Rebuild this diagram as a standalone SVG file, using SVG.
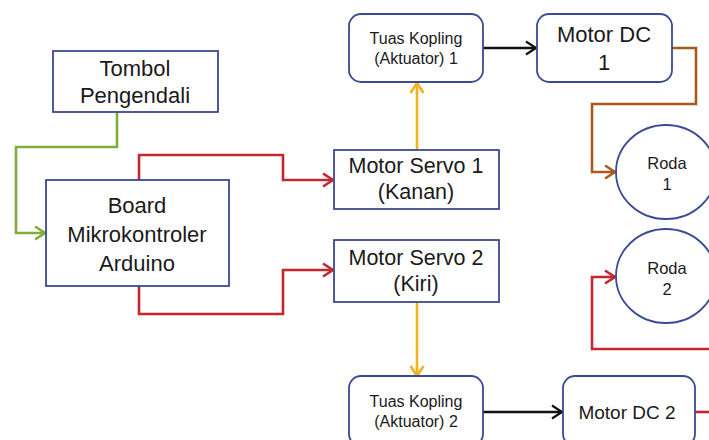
<svg xmlns="http://www.w3.org/2000/svg" width="709" height="440" viewBox="0 0 709 440">
<defs>
<style>
.box{fill:#fff;stroke:#3a4a94;stroke-width:1.8}
.t{font-family:"Liberation Sans",Arial,sans-serif;fill:#1a1a1a;text-anchor:middle}
.c{fill:none;stroke-width:2.6;stroke-linejoin:miter}
.g{stroke:#80ad3c}.r{stroke:#c4272d}.y{stroke:#f2b31c}.b{stroke:#111}.br{stroke:#a65a20}
</style>
<marker id="ag" markerUnits="userSpaceOnUse" markerWidth="14" markerHeight="16" refX="11" refY="7" orient="auto" overflow="visible"><path d="M1,0.5 L11,7 L1,13.5" fill="none" stroke="#80ad3c" stroke-width="2.6"/></marker>
<marker id="ar" markerUnits="userSpaceOnUse" markerWidth="14" markerHeight="16" refX="11" refY="7" orient="auto" overflow="visible"><path d="M1,0.5 L11,7 L1,13.5" fill="none" stroke="#c4272d" stroke-width="2.6"/></marker>
<marker id="ay" markerUnits="userSpaceOnUse" markerWidth="14" markerHeight="16" refX="11" refY="7" orient="auto" overflow="visible"><path d="M1,0.5 L11,7 L1,13.5" fill="none" stroke="#f2b31c" stroke-width="2.6"/></marker>
<marker id="ab" markerUnits="userSpaceOnUse" markerWidth="14" markerHeight="16" refX="11" refY="7" orient="auto" overflow="visible"><path d="M1,0.5 L11,7 L1,13.5" fill="none" stroke="#111" stroke-width="2.2"/></marker>
<marker id="abr" markerUnits="userSpaceOnUse" markerWidth="14" markerHeight="16" refX="11" refY="7" orient="auto" overflow="visible"><path d="M1,0.5 L11,7 L1,13.5" fill="none" stroke="#a65a20" stroke-width="2.6"/></marker>
</defs>
<rect width="709" height="440" fill="#fff"/>
<g id="connectors">
<path class="c g" d="M117,112 V147 H16 V233 H45" marker-end="url(#ag)"/>
<path class="c r" d="M139,180 V155 H283 V180 H333" marker-end="url(#ar)"/>
<path class="c r" d="M139,286 V314 H283 V270 H333" marker-end="url(#ar)"/>
<path class="c y" d="M417,150 V83" marker-end="url(#ay)"/>
<path class="c y" d="M417,302 V376" marker-end="url(#ay)"/>
<path class="c b" d="M483,48 H536" marker-end="url(#ab)"/>
<path class="c b" d="M483,412 H562" marker-end="url(#ab)"/>
<path class="c br" d="M672,48 H696 V104 H592 V172 H615" marker-end="url(#abr)"/>
<path class="c r" d="M709,349 H592 V277 H615" marker-end="url(#ar)"/>
<path class="c r" d="M695,412 H712"/>
</g>
<g id="tombol">
<rect class="box" x="53" y="51" width="165" height="61"/>
<text class="t" x="135" y="76" font-size="22">Tombol</text>
<text class="t" x="135" y="103" font-size="22">Pengendali</text>
</g>
<g id="board">
<rect class="box" x="46" y="180" width="183" height="106"/>
<text class="t" x="137" y="213" font-size="22">Board</text>
<text class="t" x="137" y="242" font-size="22">Mikrokontroler</text>
<text class="t" x="137" y="271" font-size="22">Arduino</text>
</g>
<g id="servo1">
<rect class="box" x="334" y="150" width="165" height="59"/>
<text class="t" x="416" y="173" font-size="21.5">Motor Servo 1</text>
<text class="t" x="416" y="199" font-size="21.5">(Kanan)</text>
</g>
<g id="servo2">
<rect class="box" x="334" y="240" width="165" height="62"/>
<text class="t" x="416" y="265" font-size="21.5">Motor Servo 2</text>
<text class="t" x="416" y="291" font-size="21.5">(Kiri)</text>
</g>
<g id="tuas1">
<rect class="box" x="349" y="14" width="134" height="68" rx="12"/>
<text class="t" x="416" y="44" font-size="16">Tuas Kopling</text>
<text class="t" x="416" y="64" font-size="16">(Aktuator) 1</text>
</g>
<g id="tuas2">
<rect class="box" x="349" y="376" width="134" height="70" rx="12"/>
<text class="t" x="416" y="407" font-size="16">Tuas Kopling</text>
<text class="t" x="416" y="427" font-size="16">(Aktuator) 2</text>
</g>
<g id="motordc1">
<rect class="box" x="537" y="14" width="135" height="68" rx="12"/>
<text class="t" x="604" y="42" font-size="22">Motor DC</text>
<text class="t" x="604" y="70" font-size="22">1</text>
</g>
<g id="motordc2">
<rect class="box" x="563" y="376" width="132" height="70" rx="12"/>
<text class="t" x="627" y="419" font-size="19">Motor DC 2</text>
</g>
<g id="roda1">
<ellipse class="box" cx="666" cy="172" rx="50" ry="47"/>
<text class="t" x="667" y="169" font-size="16.5">Roda</text>
<text class="t" x="667" y="190" font-size="16.5">1</text>
</g>
<g id="roda2">
<ellipse class="box" cx="666" cy="276" rx="50" ry="47"/>
<text class="t" x="667" y="274" font-size="16.5">Roda</text>
<text class="t" x="667" y="295" font-size="16.5">2</text>
</g>
</svg>
